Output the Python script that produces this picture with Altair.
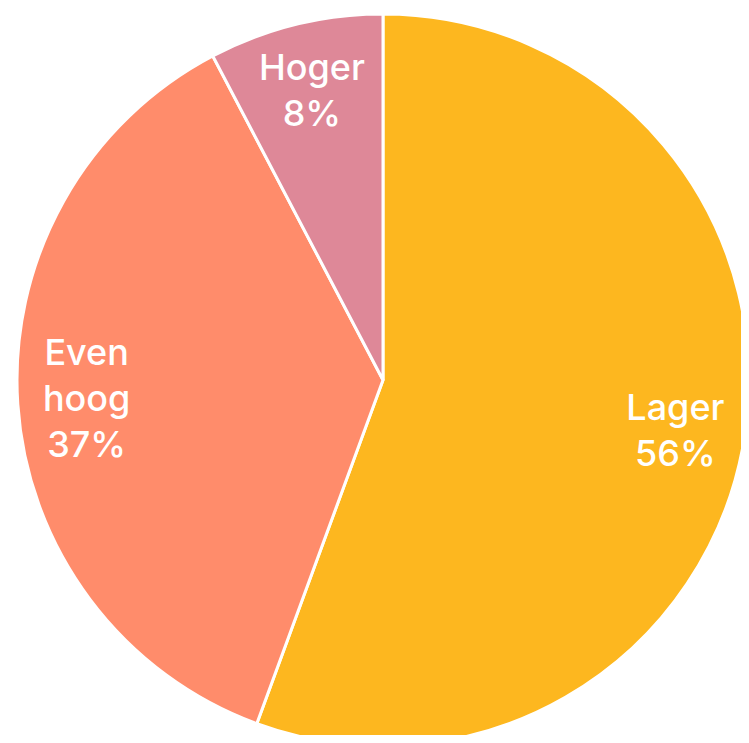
import altair as alt
import pandas as pd

categories = ["Lager", "Even hoog", "Hoger"]
values = [55.6, 36.7, 7.7]
labels = [["Lager", "56%"], ["Even", "hoog", "37%"], ["Hoger", "8%"]]
colors = ["#FDB71F", "#FF8C6B", "#DE8898"]
order = [0, 1, 2]

df = pd.DataFrame({"cat": categories, "val": values, "lab": labels, "ord": order})
df["nlines"] = [len(l) for l in labels]

CX, CY, R = 375, 372, 366
LH = 46

base = alt.Chart(df).encode(
    theta=alt.Theta("val:Q", stack=True),
    order=alt.Order("ord:Q"),
    x=alt.value(CX),
    y=alt.value(CY),
)

arcs = base.mark_arc(outerRadius=R, stroke="white", strokeWidth=3).encode(
    color=alt.Color("cat:N", scale=alt.Scale(domain=categories, range=colors), legend=None)
)

def text_layer(n):
    return base.mark_text(
        radius=297, font="Inter", fontSize=36, fontWeight=500, color="white",
        lineHeight=LH, align="center", baseline="middle", dy=-(n - 1) * LH / 2
    ).encode(
        text="lab",
        opacity=alt.condition(f"datum.nlines == {n}", alt.value(1), alt.value(0)),
    )

chart = (arcs + text_layer(2) + text_layer(3)).properties(
    width=733, height=727, padding=0, autosize=alt.AutoSizeParams(type="none")
).configure_view(stroke=None)

chart.save("out.html", embed_options={"renderer": "svg", "actions": False})
